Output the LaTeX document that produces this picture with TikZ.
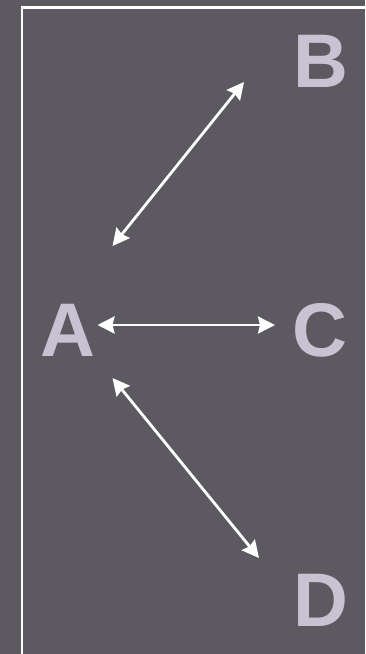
\documentclass[tikz,border=0pt]{standalone}
\usepackage{fontspec}
\setmainfont{Liberation Sans}
\usetikzlibrary{arrows.meta,calc}
\definecolor{bg}{HTML}{5C5A60}
\definecolor{letter}{HTML}{C8C2D2}
\tikzset{
  lbl/.style={text=letter, font=\bfseries\fontsize{76}{76}\selectfont, inner sep=0pt},
  link/.style={draw=white, line width=2.8pt, {Stealth[length=17pt,width=17pt,inset=2pt]}-{Stealth[length=17pt,width=17pt,inset=2pt]}}
}
\begin{document}
\begin{tikzpicture}[x=1pt,y=1pt]
\useasboundingbox (0,0) rectangle (365,-654);
\fill[bg] (0,0) rectangle (365,-654);
\draw[white, line width=2.5pt] (22,-660) -- (22,-7.5) -- (370,-7.5);
\node[lbl] (A) at (67.5,-330) {A};
\node[lbl] (B) at (321,-61) {B};
\node[lbl] (C) at (320,-330) {C};
\node[lbl] (D) at (321,-600) {D};
\draw[link] ($(A.center)+(45,84)$) -- ($(B.center)+(-77,-21)$);
\draw[link] ($(A.center)+(30,5)$) -- ($(C.center)+(-45,5)$);
\draw[link] ($(A.center)+(45,-48)$) -- ($(D.center)+(-62,42)$);
\end{tikzpicture}
\end{document}
